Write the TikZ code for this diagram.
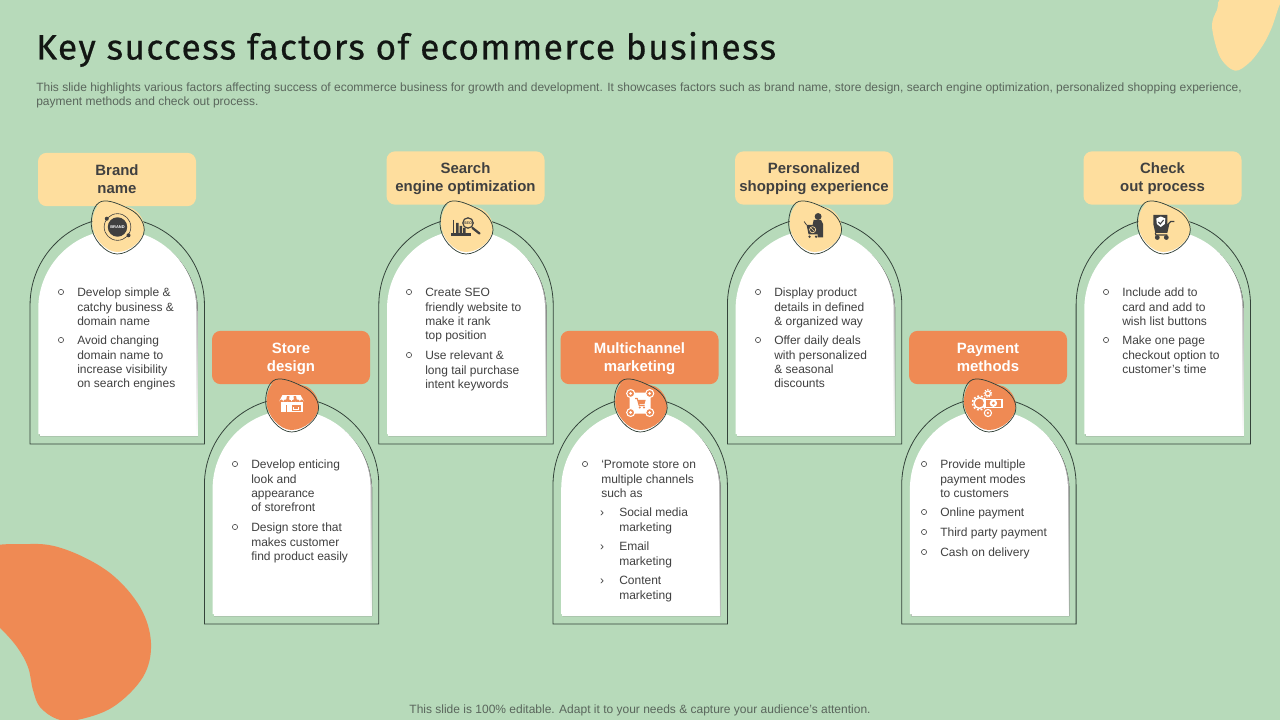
\documentclass[tikz,border=0pt]{standalone}
\usepackage{fontspec}
\setmainfont{Liberation Sans}
\newfontfamily\titlefont[LetterSpace=3.9,FakeBold=0.5]{Fira Sans}
\definecolor{bgc}{HTML}{B7DABA}
\definecolor{shade}{HTML}{AFD3B3}
\definecolor{orangec}{HTML}{EF8A54}
\definecolor{yellowc}{HTML}{FEDE9E}
\definecolor{linec}{HTML}{34433A}
\definecolor{txtc}{HTML}{404040}
\definecolor{subc}{HTML}{5A665C}
\tikzset{
  x=0.75pt,y=-0.75pt,
  archline/.style={draw=linec,line width=0.6pt,fill=none},
  labelbox/.style={rounded corners=6.5pt,draw=none,minimum width=118.5pt,minimum height=40pt,inner sep=0pt,align=center,font=\bfseries\fontsize{11.2}{13.5}\selectfont},
  labeltext/.style={inner sep=0pt,align=center,font=\bfseries\fontsize{11.2}{13.5}\selectfont},
  bodytext/.style={anchor=north west,inner sep=0pt,align=left,text=txtc,font=\fontsize{9}{10.7}\selectfont},
  bulletmark/.style={circle,draw=txtc,line width=0.45pt,minimum size=3.9pt,inner sep=0pt},
  chevmark/.style={inner sep=0pt,text=txtc,font=\fontsize{9}{10}\selectfont},
}
\newcommand{\twolines}[2]{\rule{0pt}{8.5pt}#1\\#2\rule[-2.5pt]{0pt}{2.5pt}}
\newcommand{\archcard}[3]{%
  \begin{scope}[shift={(#2,#3)}]
  \draw[archline] (-87.2,444) -- (-87.2,305) arc[start angle=180,end angle=0,radius=65.4pt] -- (87.2,444) -- cycle;
  \fill[shade] (-77.5,436) -- (-77.5,311) arc[start angle=180,end angle=0,radius=59.25pt] -- (80.5,436) -- cycle;
  \fill[white] (-79,434) -- (-79,309) arc[start angle=180,end angle=0,radius=59.25pt] -- (79,434) -- cycle;
  \end{scope}}
\newcommand{\blob}[3]{%
  \begin{scope}[shift={(#1,#2)}]
  \fill[#3] (-12,-24.5) .. controls (-4,-25) and (6,-21) .. (15,-18.5) .. controls (22,-15) and (27,-7) .. (27,1) .. controls (27,13) and (13,25) .. (0,25) .. controls (-12,25) and (-25,10) .. (-25,-3) .. controls (-25,-15) and (-20,-24.5) .. (-12,-24.5) -- cycle;
  \draw[linec,line width=0.55pt] (-13,-26) .. controls (-5,-26.5) and (5,-21.5) .. (13,-17.5) .. controls (20,-14) and (27,-6) .. (27,3) .. controls (27,14) and (12,27) .. (0,27) .. controls (-12,27) and (-26,11) .. (-26,-3) .. controls (-26,-16) and (-21,-26) .. (-13,-26) -- cycle;
  \end{scope}}
\newcommand{\bul}[4]{%
  \node[bulletmark] (#1m) at ({#2-16},#3) {};
  \node[bodytext] (#1) at (#2,{#3-6.2}) {\rule{0pt}{8pt}#4};}
\newcommand{\subbul}[4]{%
  \node[chevmark] (#1m) at ({#2-17},{#3+1.5}) {›};
  \node[bodytext] (#1) at (#2,{#3-6.2}) {\rule{0pt}{8pt}#4};}
\begin{document}
\begin{tikzpicture}
\useasboundingbox (0,0) rectangle (1280,720);
\fill[bgc] (0,0) rectangle (1280,720);
\begin{scope}
\clip (0,0) rectangle (1280,720);
\fill[orangec] plot[smooth cycle,tension=0.6] coordinates {(-20,553) (30,544) (67,550) (110,573) (140,607) (151,643) (143,677) (113,707) (77,720) (57,719) (40,707) (33,690) (28,667) (17,647) (0,628) (-20,612)};
\fill[yellowc] plot[smooth cycle,tension=0.55] coordinates {(1290,-10) (1226,-4) (1217,10) (1212,27) (1220,57) (1235,70.7) (1250,62) (1263,45) (1272,27) (1280,4)};
\end{scope}

\node[anchor=base west,inner sep=0pt,text=black!90!bgc,font=\titlefont\fontsize{26.5}{30}\selectfont] (title) at (36,59.5) {Key success factors of ecommerce business};
\node[anchor=north west,inner sep=0pt,align=left,text=subc,font=\fontsize{9}{10.5}\selectfont] (sub) at (36,80.5) {\rule{0pt}{8pt}This slide highlights various factors affecting success of ecommerce business for growth and development. It showcases factors such as brand name, store design, search engine optimization, personalized shopping experience,\\payment methods and check out process.};
\node[inner sep=0pt,text=subc,font=\fontsize{9}{10.5}\selectfont] (foot) at (640,710) {This slide is 100\% editable. Adapt it to your needs \& capture your audience’s attention.};

\archcard{a}{117.25}{0}
\archcard{b}{291.6}{180}
\archcard{c}{466}{0}
\archcard{d}{640.2}{180}
\archcard{e}{814.6}{0}
\archcard{f}{988.9}{180}
\archcard{g}{1163.3}{0}

\node[labelbox,fill=yellowc] (l1) at (117,179.5) {};
\node[labeltext,text=txtc] at (117,180.7) {\twolines{Brand}{name}};
\node[labelbox,fill=orangec] (l2) at (291,357.5) {};
\node[labeltext,text=white] at (291,358.7) {\twolines{Store}{design}};
\node[labelbox,fill=yellowc] (l3) at (465.5,178) {};
\node[labeltext,text=txtc] at (465.5,179) {\twolines{Search}{engine optimization}};
\node[labelbox,fill=orangec] (l4) at (639.5,357.5) {};
\node[labeltext,text=white] at (639.5,358.7) {\twolines{Multichannel}{marketing}};
\node[labelbox,fill=yellowc] (l5) at (814,178) {};
\node[labeltext,text=txtc] at (814,179) {\twolines{Personalized}{shopping experience}};
\node[labelbox,fill=orangec] (l6) at (988,357.5) {};
\node[labeltext,text=white] at (988,358.7) {\twolines{Payment}{methods}};
\node[labelbox,fill=yellowc] (l7) at (1162.5,178) {};
\node[labeltext,text=txtc] at (1162.5,179) {\twolines{Check}{out process}};

\blob{117.25}{227}{yellowc}
\blob{291.6}{405}{orangec}
\blob{466}{227}{yellowc}
\blob{640.2}{405}{orangec}
\blob{814.6}{227}{yellowc}
\blob{988.9}{405}{orangec}
\blob{1163.3}{227}{yellowc}

% brand
\begin{scope}[shift={(117.5,227)}]
\draw[txtc,line width=0.45pt] (0,0) circle[radius=10pt];
\fill[txtc] (0,0) circle[radius=7.3pt];
\fill[txtc] (-10.7,-8.3) circle[radius=1.5pt] (11,8.3) circle[radius=1.5pt];
\node[inner sep=0pt,text=white,font=\bfseries\fontsize{3}{3}\selectfont] (brandtxt) at (0,0) {BRAND};
\end{scope}

% store
\begin{scope}[shift={(291.5,404)}]
\fill[white] (-11,-2) rectangle (11,8);
\fill[orangec] (-6,1) rectangle (-4.7,8);
\fill[orangec] (0.2,0.5) -- (9,0.5) -- (9,6.5) -- (0.2,6.5) -- cycle;
\fill[white] (1.6,2.5) rectangle (7.6,6);
\fill[orangec] (2.8,3.3) rectangle (6.6,5.2);
\fill[white] (-9,-9) -- (9,-9) -- (12.5,-2.5) arc[start angle=0,end angle=180,radius=1.56pt] arc[start angle=0,end angle=180,radius=1.56pt] arc[start angle=0,end angle=180,radius=1.56pt] arc[start angle=0,end angle=180,radius=1.56pt] arc[start angle=0,end angle=180,radius=1.56pt] arc[start angle=0,end angle=180,radius=1.56pt] -- cycle;
\fill[orangec] (-4.5,-8) -- (-2,-8) -- (-2.6,-3) -- (-5.6,-3) -- cycle;
\fill[orangec] (2,-8) -- (4.5,-8) -- (5.6,-3) -- (2.6,-3) -- cycle;
\end{scope}

% seo
\begin{scope}[shift={(466,227)}]
\draw[txtc,line width=1pt] (-12.5,-7) -- (-12.5,6);
\fill[txtc] (-15,6) rectangle (5,9);
\fill[txtc] (-10,-4) rectangle (-7.5,6) (-6.5,-1) rectangle (-4,6) (-3,1) rectangle (-0.5,6);
\draw[txtc,line width=0.9pt,fill=yellowc] (2,-4) circle[radius=3.9pt];
\node[inner sep=0pt,text=txtc,font=\bfseries\fontsize{2.8}{3}\selectfont] (seotxt) at (2,-4) {SEO};
\draw[txtc,line width=1.7pt,line cap=round] (6.5,1) -- (13.5,6.5);
\end{scope}

% multichannel
\begin{scope}[shift={(640.2,403)}]
\fill[white,rounded corners=2pt] (-10.5,-10.5) rectangle (10.5,10.5);
\foreach \sx/\sy in {-9.5/-9.5,9.5/-9.5,-9.5/9.5,9.5/9.5}{
  \draw[white,line width=0.8pt,fill=orangec] (\sx,\sy) circle[radius=3pt];
  \fill[white] (\sx,\sy) circle[radius=1.1pt];
}
\draw[orangec,line width=0.8pt] (-5,-4.5) -- (-3,-4.5) -- (-1,2.5) -- (4.5,2.5);
\fill[orangec] (-2.5,-3.2) -- (5.5,-3.2) -- (4.2,1.2) -- (-1.2,1.2) -- cycle;
\fill[orangec] (-0.5,4.5) circle[radius=0.9pt] (3.8,4.5) circle[radius=0.9pt];
\end{scope}

% person with cart
\begin{scope}[shift={(814.6,227)}]
\fill[txtc] (3.5,-10.5) circle[radius=2.6pt];
\fill[txtc] (-1,-7) -- (6.5,-7) -- (8.5,-3) -- (8.5,10.5) -- (3,10.5) -- (3,0) -- (-2,-2) -- cycle;
\fill[txtc] (-8,-2) -- (4,-2) -- (3.4,7.5) -- (-6,7.5) -- cycle;
\draw[txtc,line width=0.6pt] (-10.5,-5.5) -- (-8,-2);
\draw[yellowc,line width=0.5pt] (-2,2.7) circle[radius=2.3pt];
\draw[yellowc,line width=0.4pt] (-3.5,1.2) -- (-0.5,4.2);
\fill[txtc] (-5,9.7) circle[radius=1pt] (1.5,9.7) circle[radius=1pt];
\end{scope}

% payment
\begin{scope}[shift={(988.9,403)}]
\draw[white,line width=1.1pt,fill=orangec] (-9.5,0) circle[radius=4pt];
\draw[white,line width=1.2pt,dash pattern=on 1.4pt off 1.4pt] (-9.5,0) circle[radius=5.2pt];
\fill[white] (-5,-4.5) rectangle (14,5);
\fill[orangec] (-3,-3) rectangle (12,3.5);
\fill[white] (4.5,0.2) circle[radius=2.8pt];
\fill[orangec] (4.5,0.2) circle[radius=1.2pt];
\draw[white,line width=0.9pt] (-1,-9.5) circle[radius=1.9pt];
\draw[white,line width=0.7pt,dash pattern=on 1pt off 1pt] (-1,-9.5) circle[radius=2.9pt];
\draw[white,line width=0.8pt] (-1,10) circle[radius=2.7pt];
\fill[white] (-1,10) circle[radius=0.9pt];
\end{scope}

% cart with shield
\begin{scope}[shift={(1163.3,227)}]
\fill[txtc] (-10,-12) -- (4,-12) -- (4,-3) -- (6,-3) -- (4,6) -- (-8,6) -- (-10,-3) -- cycle;
\draw[txtc,line width=0.9pt] (5,-3) -- (7.5,-5.5) -- (11,-5.5);
\draw[txtc,line width=0.9pt] (-8,6) -- (-7.5,8) -- (4,8);
\fill[white] (-7,-8.5) -- (-2.5,-10.5) -- (2,-8.5) -- (1.5,-3) -- (-2.5,0) -- (-6.5,-3) -- cycle;
\draw[txtc,line width=0.8pt] (-5,-5) -- (-3,-3) -- (0.3,-7);
\fill[txtc] (-6,10.5) circle[radius=1.8pt] (3,10.5) circle[radius=1.8pt];
\end{scope}

\bul{t1a}{77}{292}{Develop simple \&\\catchy business \&\\domain name}
\bul{t1b}{77}{340}{Avoid changing\\domain name to\\increase visibility\\on search engines}
\bul{t2a}{251}{464}{Develop enticing\\look and\\appearance\\of storefront}
\bul{t2b}{251}{527}{Design store that\\makes customer\\find product easily}
\bul{t3a}{425}{292}{Create SEO\\friendly website to\\make it rank\\top position}
\bul{t3b}{425}{355}{Use relevant \&\\long tail purchase\\intent keywords}
\bul{t4a}{601}{464}{‘Promote store on\\multiple channels\\such as}
\subbul{t4b}{619}{512}{Social media\\marketing}
\subbul{t4c}{619}{546}{Email\\marketing}
\subbul{t4d}{619}{580}{Content\\marketing}
\bul{t5a}{774}{292}{Display product\\details in defined\\\& organized way}
\bul{t5b}{774}{340}{Offer daily deals\\with personalized\\\& seasonal\\discounts}
\bul{t6a}{940}{464}{Provide multiple\\payment modes\\to customers}
\bul{t6b}{940}{512}{Online payment}
\bul{t6c}{940}{532}{Third party payment}
\bul{t6d}{940}{552}{Cash on delivery}
\bul{t7a}{1122}{292}{Include add to\\card and add to\\wish list buttons}
\bul{t7b}{1122}{340}{Make one page\\checkout option to\\customer’s time}
\end{tikzpicture}
\end{document}
